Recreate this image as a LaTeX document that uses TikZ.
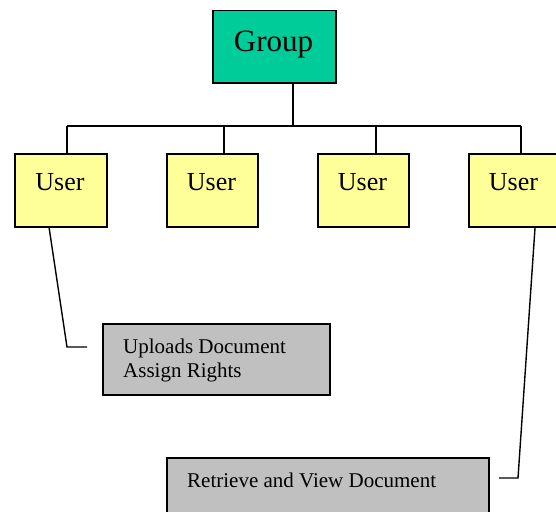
\documentclass[tikz,border=0pt]{standalone}
\usepackage{fontspec}
\setmainfont{Liberation Serif}
\begin{document}
\begin{tikzpicture}[x=1pt,y=-1pt,
  box/.style={draw=black, line width=1.5pt, inner sep=0pt, anchor=north west},
  grp/.style={box, fill=grpcol},
  usr/.style={box, fill=usrcol},
  note/.style={box, fill=notecol},
  txt/.style={anchor=base, inner sep=0pt},
  ltxt/.style={anchor=base west, inner sep=0pt},
  wire/.style={draw=black, line width=1.4pt}]
\definecolor{grpcol}{HTML}{00CC99}
\definecolor{usrcol}{HTML}{FFFF99}
\definecolor{notecol}{HTML}{C0C0C0}
\useasboundingbox (0,0) rectangle (556,511);
\clip (0,0) rectangle (556,511);
% boxes
\node[grp, minimum width=123pt, minimum height=72pt] (g) at (212,10) {};
\node[usr, minimum width=92pt, minimum height=73pt] (u1) at (14,153) {};
\node[usr, minimum width=91pt, minimum height=73pt] (u2) at (166,153) {};
\node[usr, minimum width=91pt, minimum height=73pt] (u3) at (317,153) {};
\node[usr, minimum width=91pt, minimum height=73pt] (u4) at (468,153) {};
\node[note, minimum width=227pt, minimum height=71pt] (n1) at (102,323) {};
\node[note, minimum width=322pt, minimum height=80pt] (n2) at (166,457) {};
% texts
\node[txt] (tg) at (273.5,52) {\fontsize{31}{37}\selectfont Group};
\node[txt] (t1) at (60,190) {\fontsize{26}{31}\selectfont User};
\node[txt] (t2) at (211.5,190) {\fontsize{26}{31}\selectfont User};
\node[txt] (t3) at (362.5,190) {\fontsize{26}{31}\selectfont User};
\node[txt] (t4) at (513.5,190) {\fontsize{26}{31}\selectfont User};
\node[ltxt] (n1a) at (123,353) {\fontsize{21}{24}\selectfont Uploads Document};
\node[ltxt] (n1b) at (123,377) {\fontsize{21}{24}\selectfont Assign Rights};
\node[ltxt] (n2a) at (187,487) {\fontsize{21}{24}\selectfont Retrieve and View Document};
% connectors
\coordinate (gs) at (293,82);
\coordinate (bus) at (293,126);
\coordinate (b1) at (67,126);
\coordinate (b2) at (224,126);
\coordinate (b3) at (376,126);
\coordinate (b4) at (521,126);
\draw[wire] (gs) -- (bus);
\draw[wire] (b1) -- (b4);
\draw[wire] (b1) -- (b1 |- u1.north);
\draw[wire] (b2) -- (b2 |- u2.north);
\draw[wire] (b3) -- (b3 |- u3.north);
\draw[wire] (b4) -- (b4 |- u4.north);
\coordinate (c1a) at (49,227);
\coordinate (c1b) at (67,347);
\coordinate (c1c) at (87,347);
\draw[wire] (c1a) -- (c1b) -- (c1c);
\coordinate (c2a) at (535,228);
\coordinate (c2b) at (518,478);
\coordinate (c2c) at (499,478);
\draw[wire] (c2a) -- (c2b) -- (c2c);
\end{tikzpicture}
\end{document}
